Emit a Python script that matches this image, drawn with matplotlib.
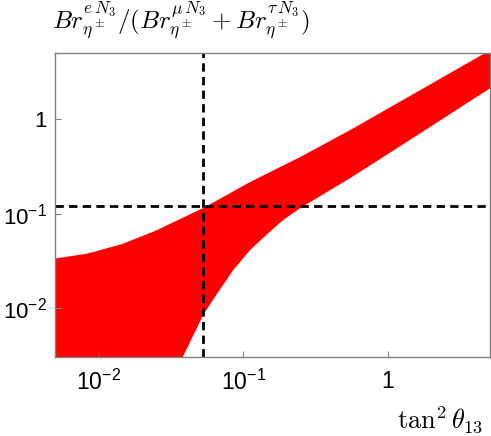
import matplotlib
matplotlib.use("Agg")
import matplotlib.pyplot as plt
from matplotlib.ticker import FixedLocator, FixedFormatter

plt.rcParams['mathtext.fontset'] = 'custom'
plt.rcParams['mathtext.rm'] = 'Liberation Sans'
plt.rcParams['mathtext.it'] = 'Liberation Sans:italic'
plt.rcParams['mathtext.bf'] = 'Liberation Sans:bold'
plt.rcParams['font.family'] = ['Liberation Sans', 'DejaVu Sans']

# Band edges (tan^2 theta13 vs ratio)
upper_x = [0.00500, 0.00845, 0.01455, 0.0246, 0.0366, 0.0529, 0.1117, 0.248, 0.550, 1.679, 5.12]
upper_y = [0.0336, 0.0380, 0.0479, 0.0658, 0.088, 0.115, 0.217, 0.399, 0.770, 2.04, 5.41]
lower_x = [0.0338, 0.0379, 0.0529, 0.0610, 0.0853, 0.1117, 0.1466, 0.189, 0.248, 0.550, 1.22, 5.12]
lower_y = [0.0020, 0.00298, 0.00849, 0.01195, 0.0254, 0.0414, 0.0611, 0.0860, 0.1151, 0.239, 0.521, 2.14]
corner = (0.005, 0.002)

x_ref = 0.0526
y_ref = 0.12

xticks = [0.01, 0.1, 1]
xticklabels = [r'$\mathregular{10^{-2}}$', r'$\mathregular{10^{-1}}$', '1']
yticks = [0.01, 0.1, 1]
yticklabels = [r'$\mathregular{10^{-2}}$', r'$\mathregular{10^{-1}}$', '1']

fig = plt.figure(figsize=(4.91, 4.36), dpi=100)
ax = fig.add_axes([0.112, 0.181, 0.886, 0.697])

poly_x = upper_x + lower_x[::-1] + [corner[0]]
poly_y = upper_y + lower_y[::-1] + [corner[1]]
ax.fill(poly_x, poly_y, color='#ff0000', lw=0)

ax.axvline(x_ref, color='black', lw=2.0, dashes=(3, 1.9))
ax.axhline(y_ref, color='black', lw=2.0, dashes=(3, 1.9))

ax.set_xscale('log')
ax.set_yscale('log')
ax.set_xlim(0.005, 5.08)
ax.set_ylim(0.00305, 5.0)

ax.xaxis.set_major_locator(FixedLocator(xticks))
ax.xaxis.set_major_formatter(FixedFormatter(xticklabels))
ax.yaxis.set_major_locator(FixedLocator(yticks))
ax.yaxis.set_major_formatter(FixedFormatter(yticklabels))
ax.xaxis.set_minor_locator(FixedLocator([]))
ax.yaxis.set_minor_locator(FixedLocator([]))
ax.tick_params(which='major', direction='in', length=4, width=0.8, color='#808080')
ax.tick_params(axis='x', labelsize=16.5, pad=9)
ax.tick_params(axis='y', labelsize=16, pad=6)

for s in ax.spines.values():
    s.set_color('#808080')
    s.set_linewidth(1.0)

fig.text(0.106, 0.952,
         r'$Br^{e\,N_3}_{\eta^\pm}/(Br^{\mu\,N_3}_{\eta^\pm}+Br^{\tau\,N_3}_{\eta^\pm})$',
         fontsize=18, math_fontfamily='cm', ha='left', va='center')
fig.text(0.984, 0.037, r'$\tan^2\theta_{13}$', fontsize=19, math_fontfamily='cm',
         ha='right', va='center')

fig.savefig('out.png', dpi=100)
